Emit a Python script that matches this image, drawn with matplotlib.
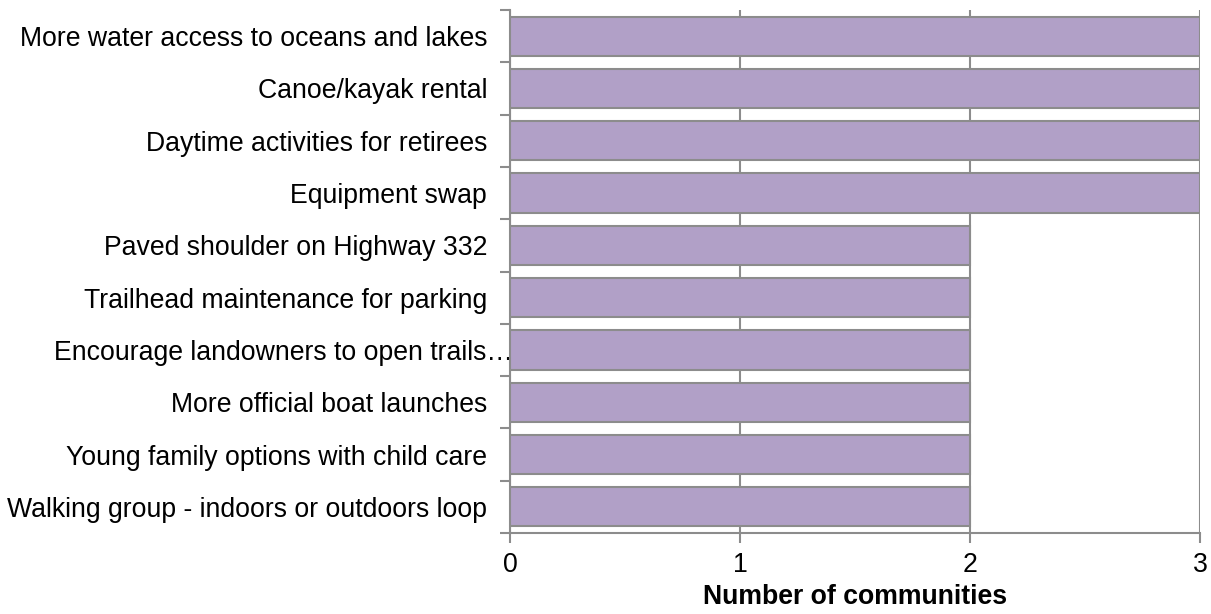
import matplotlib
matplotlib.use("Agg")
import matplotlib.pyplot as plt
import matplotlib.transforms as mtransforms

# ── Data ────────────────────────────────────────────────────────────────
categories = [
    "More water access to oceans and lakes",
    "Canoe/kayak rental",
    "Daytime activities for retirees",
    "Equipment swap",
    "Paved shoulder on Highway 332",
    "Trailhead maintenance for parking",
    "Encourage landowners to open trails…",
    "More official boat launches",
    "Young family options with child care",
    "Walking group - indoors or outdoors loop",
]
counts = [3, 3, 3, 3, 2, 2, 2, 2, 2, 2]
x_ticks = [0, 1, 2, 3]

BAR_COLOR = "#b1a0c7"
EDGE_COLOR = "#8c8c8c"
GRID_COLOR = "#8c8c8c"
FS = 19.2

plt.rcParams["font.family"] = ["Liberation Sans", "DejaVu Sans"]

fig = plt.figure(figsize=(12.11, 6.14), dpi=100)
ax = fig.add_axes([510 / 1211, 1 - 533 / 614, 690 / 1211, 523 / 614])

y = list(range(len(categories)))
ax.barh(y, counts, height=0.75, color=BAR_COLOR, edgecolor=EDGE_COLOR,
        linewidth=1.5, zorder=3)

ax.set_xlim(0, 3)
ax.set_ylim(len(categories) - 0.5, -0.5)
ax.set_xticks(x_ticks)
ax.set_xticklabels([str(t) for t in x_ticks], fontsize=FS)

# category labels, ticks sit on the boundaries between categories
ax.set_yticks(y)
ax.set_yticklabels(categories, fontsize=FS)
ax.tick_params(axis="y", length=0, pad=16.5)
ax.set_yticks([i - 0.5 for i in range(len(categories) + 1)], minor=True)
ax.tick_params(axis="y", which="minor", length=7, width=1.5, color=GRID_COLOR)
ax.tick_params(axis="x", length=7, width=1.5, color=GRID_COLOR, pad=7)

# the truncated label runs over to the axis
lbl = ax.get_yticklabels()[6]
lbl.set_transform(lbl.get_transform() + mtransforms.ScaledTranslation(
    26 / 100, 0, fig.dpi_scale_trans))

ax.grid(axis="x", color=GRID_COLOR, linewidth=1.5, zorder=0)
ax.set_axisbelow(True)
for side in ["top", "right"]:
    ax.spines[side].set_visible(False)
for side in ["left", "bottom"]:
    ax.spines[side].set_color(GRID_COLOR)
    ax.spines[side].set_linewidth(1.5)

ax.set_xlabel("Number of communities", fontsize=FS, fontweight="bold",
              labelpad=4)

fig.savefig("out.png", dpi=100)
